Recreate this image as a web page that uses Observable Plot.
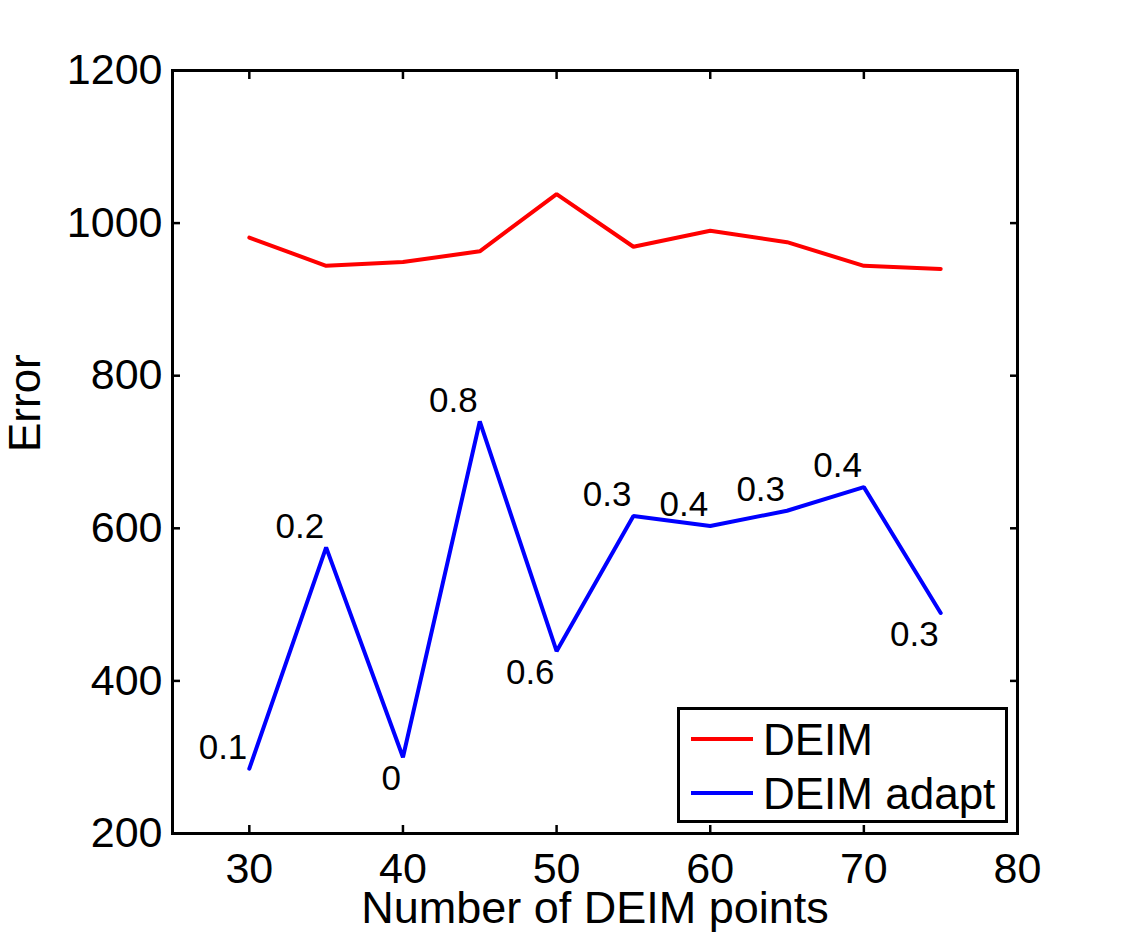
<!DOCTYPE html>
<html>
<head>
<meta charset="utf-8">
<script src="https://cdn.jsdelivr.net/npm/d3@7"></script>
<script src="https://cdn.jsdelivr.net/npm/@observablehq/plot@0.6"></script>
<style>
  html, body { margin: 0; padding: 0; background: #fff; }
  #wrap { position: relative; width: 1125px; height: 938px; font-family: "Liberation Sans", Arial, Helvetica, sans-serif; }
  #legend { position: absolute; left: 677px; top: 707px; }
</style>
</head>
<body>
<div id="wrap"></div>
<script>
// ---- data ----
const points = [30, 35, 40, 45, 50, 55, 60, 65, 70, 75];
const deim = [981, 944, 949, 963, 1038, 969, 990, 975, 944, 940];
const deimAdapt = [285, 575, 300, 740, 439, 616, 603, 623, 654, 489];
const adaptLabels = ["0.1", "0.2", "0", "0.8", "0.6", "0.3", "0.4", "0.3", "0.4", "0.3"];
const xTicks = [30, 40, 50, 60, 70, 80];
const yTicks = [200, 400, 600, 800, 1000, 1200];
const seriesNames = ["DEIM", "DEIM adapt"];
const seriesColors = ["#ff0000", "#0000ff"];

const rows = [];
points.forEach((p, i) => {
  rows.push({x: p, y: deim[i], s: seriesNames[0]});
  rows.push({x: p, y: deimAdapt[i], s: seriesNames[1]});
});
const adaptRows = points.map((p, i) => ({x: p, y: deimAdapt[i], label: adaptLabels[i]}));
const belowAt = new Set([40, 50, 75]);

const font = "'Liberation Sans', Arial, Helvetica, sans-serif";
const tickLen = 8;
const plain = d3.format("d");

const chart = Plot.plot({
  width: 1125,
  height: 938,
  marginLeft: 172,
  marginRight: 108,
  marginTop: 70,
  marginBottom: 105,
  style: {fontFamily: font, background: "white", color: "black"},
  x: {domain: [25, 80]},
  y: {domain: [200, 1200]},
  color: {domain: seriesNames, range: seriesColors},
  marks: [
    // tick labels
    Plot.axisX(xTicks, {anchor: "bottom", tickSize: 0, tickPadding: 19, fontSize: 43, tickFormat: plain, label: null}),
    Plot.axisY(yTicks, {anchor: "left", tickSize: 0, tickPadding: 10, fontSize: 43, tickFormat: plain, label: null}),
    // inward ticks on all four sides
    Plot.axisX(xTicks, {anchor: "bottom", tickSize: tickLen, dy: -tickLen, strokeWidth: 2.5, tickFormat: () => "", label: null}),
    Plot.axisX(xTicks, {anchor: "top", tickSize: tickLen, dy: tickLen, strokeWidth: 2.5, tickFormat: () => "", label: null}),
    Plot.axisY(yTicks, {anchor: "left", tickSize: tickLen, dx: tickLen, strokeWidth: 2.5, tickFormat: () => "", label: null}),
    Plot.axisY(yTicks, {anchor: "right", tickSize: tickLen, dx: -tickLen, strokeWidth: 2.5, tickFormat: () => "", label: null}),
    // series
    Plot.line(rows, {x: "x", y: "y", z: "s", stroke: "s", strokeWidth: 4, strokeLinejoin: "miter"}),
    // value labels (above / below the point)
    Plot.text(adaptRows, {
      filter: (d) => !belowAt.has(d.x),
      x: "x", y: "y", text: "label",
      textAnchor: "end", dx: -2, dy: -21,
      lineAnchor: "middle", fontSize: 35, fill: "black"
    }),
    Plot.text(adaptRows, {
      filter: (d) => belowAt.has(d.x),
      x: "x", y: "y", text: "label",
      textAnchor: "end", dx: -2, dy: 22,
      lineAnchor: "middle", fontSize: 35, fill: "black"
    }),
    Plot.frame({stroke: "black", strokeWidth: 3}),
    // axis titles
    Plot.text(["Number of DEIM points"], {frameAnchor: "bottom", dy: 75, lineAnchor: "middle", fontSize: 45, fill: "black"}),
    Plot.text(["Error"], {frameAnchor: "left", dx: -147, rotate: -90, lineAnchor: "middle", fontSize: 44, fill: "black"})
  ]
});

const wrap = document.getElementById("wrap");
wrap.appendChild(chart);

// legend box inside the plot area (bottom-right)
const ns = "http://www.w3.org/2000/svg";
const lg = document.createElementNS(ns, "svg");
lg.setAttribute("id", "legend");
lg.setAttribute("width", 331);
lg.setAttribute("height", 116);
const rect = document.createElementNS(ns, "rect");
rect.setAttribute("x", 1.5); rect.setAttribute("y", 1.5);
rect.setAttribute("width", 328); rect.setAttribute("height", 113);
rect.setAttribute("fill", "white"); rect.setAttribute("stroke", "black"); rect.setAttribute("stroke-width", 3);
lg.appendChild(rect);
seriesNames.forEach((name, i) => {
  const yl = 32 + i * 54;
  const ln = document.createElementNS(ns, "line");
  ln.setAttribute("x1", 14); ln.setAttribute("x2", 76);
  ln.setAttribute("y1", yl); ln.setAttribute("y2", yl);
  ln.setAttribute("stroke", seriesColors[i]); ln.setAttribute("stroke-width", 4);
  lg.appendChild(ln);
  const tx = document.createElementNS(ns, "text");
  tx.setAttribute("x", 86); tx.setAttribute("y", 48 + i * 54);
  tx.setAttribute("font-size", 44);
  tx.setAttribute("font-family", font);
  tx.setAttribute("fill", "black");
  tx.textContent = name;
  lg.appendChild(tx);
});
wrap.appendChild(lg);
</script>
</body>
</html>
